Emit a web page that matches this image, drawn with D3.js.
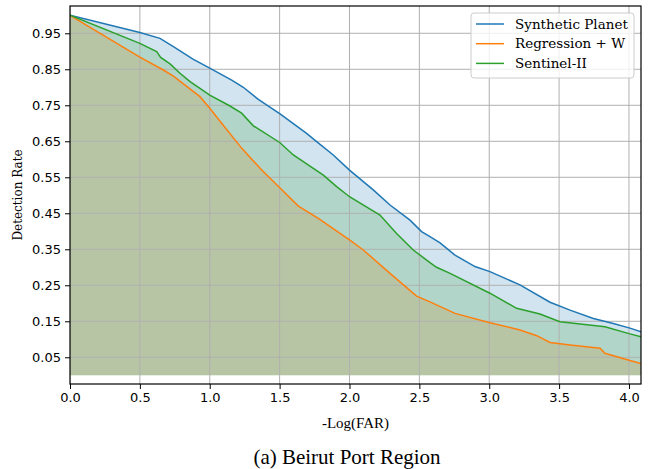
<!DOCTYPE html>
<html><head><meta charset="utf-8">
<script src="https://cdn.jsdelivr.net/npm/d3@7"></script>
<style>body{margin:0;background:#fff}</style>
</head><body>
<svg id="c" width="653" height="469"></svg>
<script>
const seriesNames = ["Synthetic Planet", "Regression + W", "Sentinel-II"];
const synthX = [0, 0.5, 0.644, 0.74, 0.88, 1.0, 1.157, 1.24, 1.345, 1.503, 1.693, 1.765, 1.884, 2.0, 2.17, 2.29, 2.433, 2.516, 2.576, 2.648, 2.755, 2.898, 3.005, 3.22, 3.435, 3.578, 3.745, 3.888, 4.007, 4.086];
const synthY = [1.0, 0.952, 0.936, 0.913, 0.878, 0.853, 0.820, 0.800, 0.767, 0.726, 0.672, 0.649, 0.612, 0.570, 0.515, 0.473, 0.431, 0.399, 0.385, 0.368, 0.334, 0.302, 0.288, 0.251, 0.203, 0.181, 0.158, 0.144, 0.131, 0.121];
const regX = [0, 0.5, 0.668, 0.74, 0.93, 1.0, 1.085, 1.228, 1.372, 1.503, 1.634, 1.777, 2.0, 2.099, 2.29, 2.48, 2.576, 2.755, 3.005, 3.22, 3.34, 3.435, 3.578, 3.793, 3.828, 4.007, 4.086];
const regY = [1.0, 0.884, 0.848, 0.831, 0.774, 0.742, 0.700, 0.631, 0.570, 0.520, 0.470, 0.436, 0.376, 0.348, 0.283, 0.220, 0.204, 0.172, 0.146, 0.126, 0.110, 0.091, 0.084, 0.075, 0.061, 0.041, 0.033];
const sentX = [0, 0.5, 0.62, 0.649, 0.716, 0.787, 0.859, 0.93, 1.0, 1.145, 1.228, 1.312, 1.503, 1.598, 1.813, 1.908, 2.0, 2.218, 2.337, 2.456, 2.576, 2.623, 2.72, 3.005, 3.196, 3.363, 3.506, 3.828, 4.007, 4.086];
const sentY = [1.0, 0.922, 0.899, 0.883, 0.865, 0.839, 0.816, 0.797, 0.778, 0.748, 0.728, 0.693, 0.646, 0.612, 0.556, 0.524, 0.496, 0.445, 0.394, 0.348, 0.313, 0.300, 0.283, 0.228, 0.186, 0.170, 0.149, 0.135, 0.115, 0.107];
const xTicks = [0, 0.5, 1.0, 1.5, 2.0, 2.5, 3.0, 3.5, 4.0];
const yTicks = [0.05, 0.15, 0.25, 0.35, 0.45, 0.55, 0.65, 0.75, 0.85, 0.95];
const colors = ["#1f77b4", "#ff7f0e", "#2ca02c"];

const svg = d3.select("#c");
const L = 70, R = 641, T = 6, B = 384;
const x = d3.scaleLinear().domain([0, 4.086]).range([L, R]);
const y = d3.scaleLinear().domain([-0.0242, 1.0258]).range([B, T]);

const series = [
  {name: seriesNames[0], xs: synthX, ys: synthY, c: colors[0]},
  {name: seriesNames[1], xs: regX, ys: regY, c: colors[1]},
  {name: seriesNames[2], xs: sentX, ys: sentY, c: colors[2]}
];

svg.append("defs").append("clipPath").attr("id","clip")
  .append("rect").attr("x", L).attr("y", T).attr("width", R-L).attr("height", B-T);

const g = svg.append("g").attr("clip-path","url(#clip)");
// fills
series.forEach(s => {
  const pts = s.xs.map((v,i)=>[v, s.ys[i]]);
  const area = d3.area().x(d=>x(d[0])).y0(y(0)).y1(d=>y(d[1]));
  g.append("path").attr("d", area(pts)).attr("fill", s.c).attr("fill-opacity", 0.2);
});
// grid
g.selectAll(".gx").data(xTicks).join("line")
  .attr("x1", d=>x(d)).attr("x2", d=>x(d)).attr("y1", T).attr("y2", B)
  .attr("stroke", "#b0b0b0").attr("stroke-width", 1);
g.selectAll(".gy").data(yTicks).join("line")
  .attr("y1", d=>y(d)).attr("y2", d=>y(d)).attr("x1", L).attr("x2", R)
  .attr("stroke", "#b0b0b0").attr("stroke-width", 1);
// lines
series.forEach(s => {
  const pts = s.xs.map((v,i)=>[v, s.ys[i]]);
  const line = d3.line().x(d=>x(d[0])).y(d=>y(d[1]));
  g.append("path").attr("d", line(pts)).attr("fill","none").attr("stroke", s.c).attr("stroke-width", 1.5);
});

// axes
const xAxis = d3.axisBottom(x).tickValues(xTicks).tickFormat(d3.format(".1f")).tickSize(5).tickPadding(4);
const yAxis = d3.axisLeft(y).tickValues(yTicks).tickFormat(d3.format(".2f")).tickSize(5).tickPadding(4);
const gx = svg.append("g").attr("transform", `translate(0,${B})`).call(xAxis);
const gy = svg.append("g").attr("transform", `translate(${L},0)`).call(yAxis);
[gx, gy].forEach(a => {
  a.select(".domain").remove();
  a.selectAll("text").attr("font-family", "DejaVu Sans").attr("font-size", "13px").attr("fill", "#000");
  a.selectAll("line").attr("stroke", "#000").attr("stroke-width", 1);
});
// spines
svg.append("rect").attr("x", L).attr("y", T).attr("width", R-L).attr("height", B-T)
  .attr("fill","none").attr("stroke","#000").attr("stroke-width",1.2);

// labels
svg.append("text").attr("x", (L+R)/2).attr("y", 428).attr("text-anchor","middle")
  .attr("font-family","Liberation Serif").attr("font-size","15px").text("-Log(FAR)");
svg.append("text").attr("transform", `translate(22,${(T+B)/2}) rotate(-90)`).attr("text-anchor","middle")
  .attr("font-family","DejaVu Serif").attr("font-size","12px").text("Detection Rate");
svg.append("text").attr("x", 347).attr("y", 464).attr("text-anchor","middle")
  .attr("font-family","Liberation Serif").attr("font-size","21px").text("(a) Beirut Port Region");

// legend
const lg = svg.append("g");
lg.append("rect").attr("x", 471).attr("y", 13).attr("width", 163).attr("height", 65).attr("rx", 3)
  .attr("fill","#fff").attr("fill-opacity",0.8).attr("stroke","#cccccc").attr("stroke-width",1);
series.forEach((s,i) => {
  const yy = 24 + i*19.7;
  lg.append("line").attr("x1", 476).attr("x2", 504).attr("y1", yy).attr("y2", yy)
    .attr("stroke", s.c).attr("stroke-width", 1.5);
  lg.append("text").attr("x", 515).attr("y", yy).attr("dy","0.35em")
    .attr("font-family","DejaVu Serif").attr("font-size","13.5px").text(s.name);
});
</script>
</body></html>
